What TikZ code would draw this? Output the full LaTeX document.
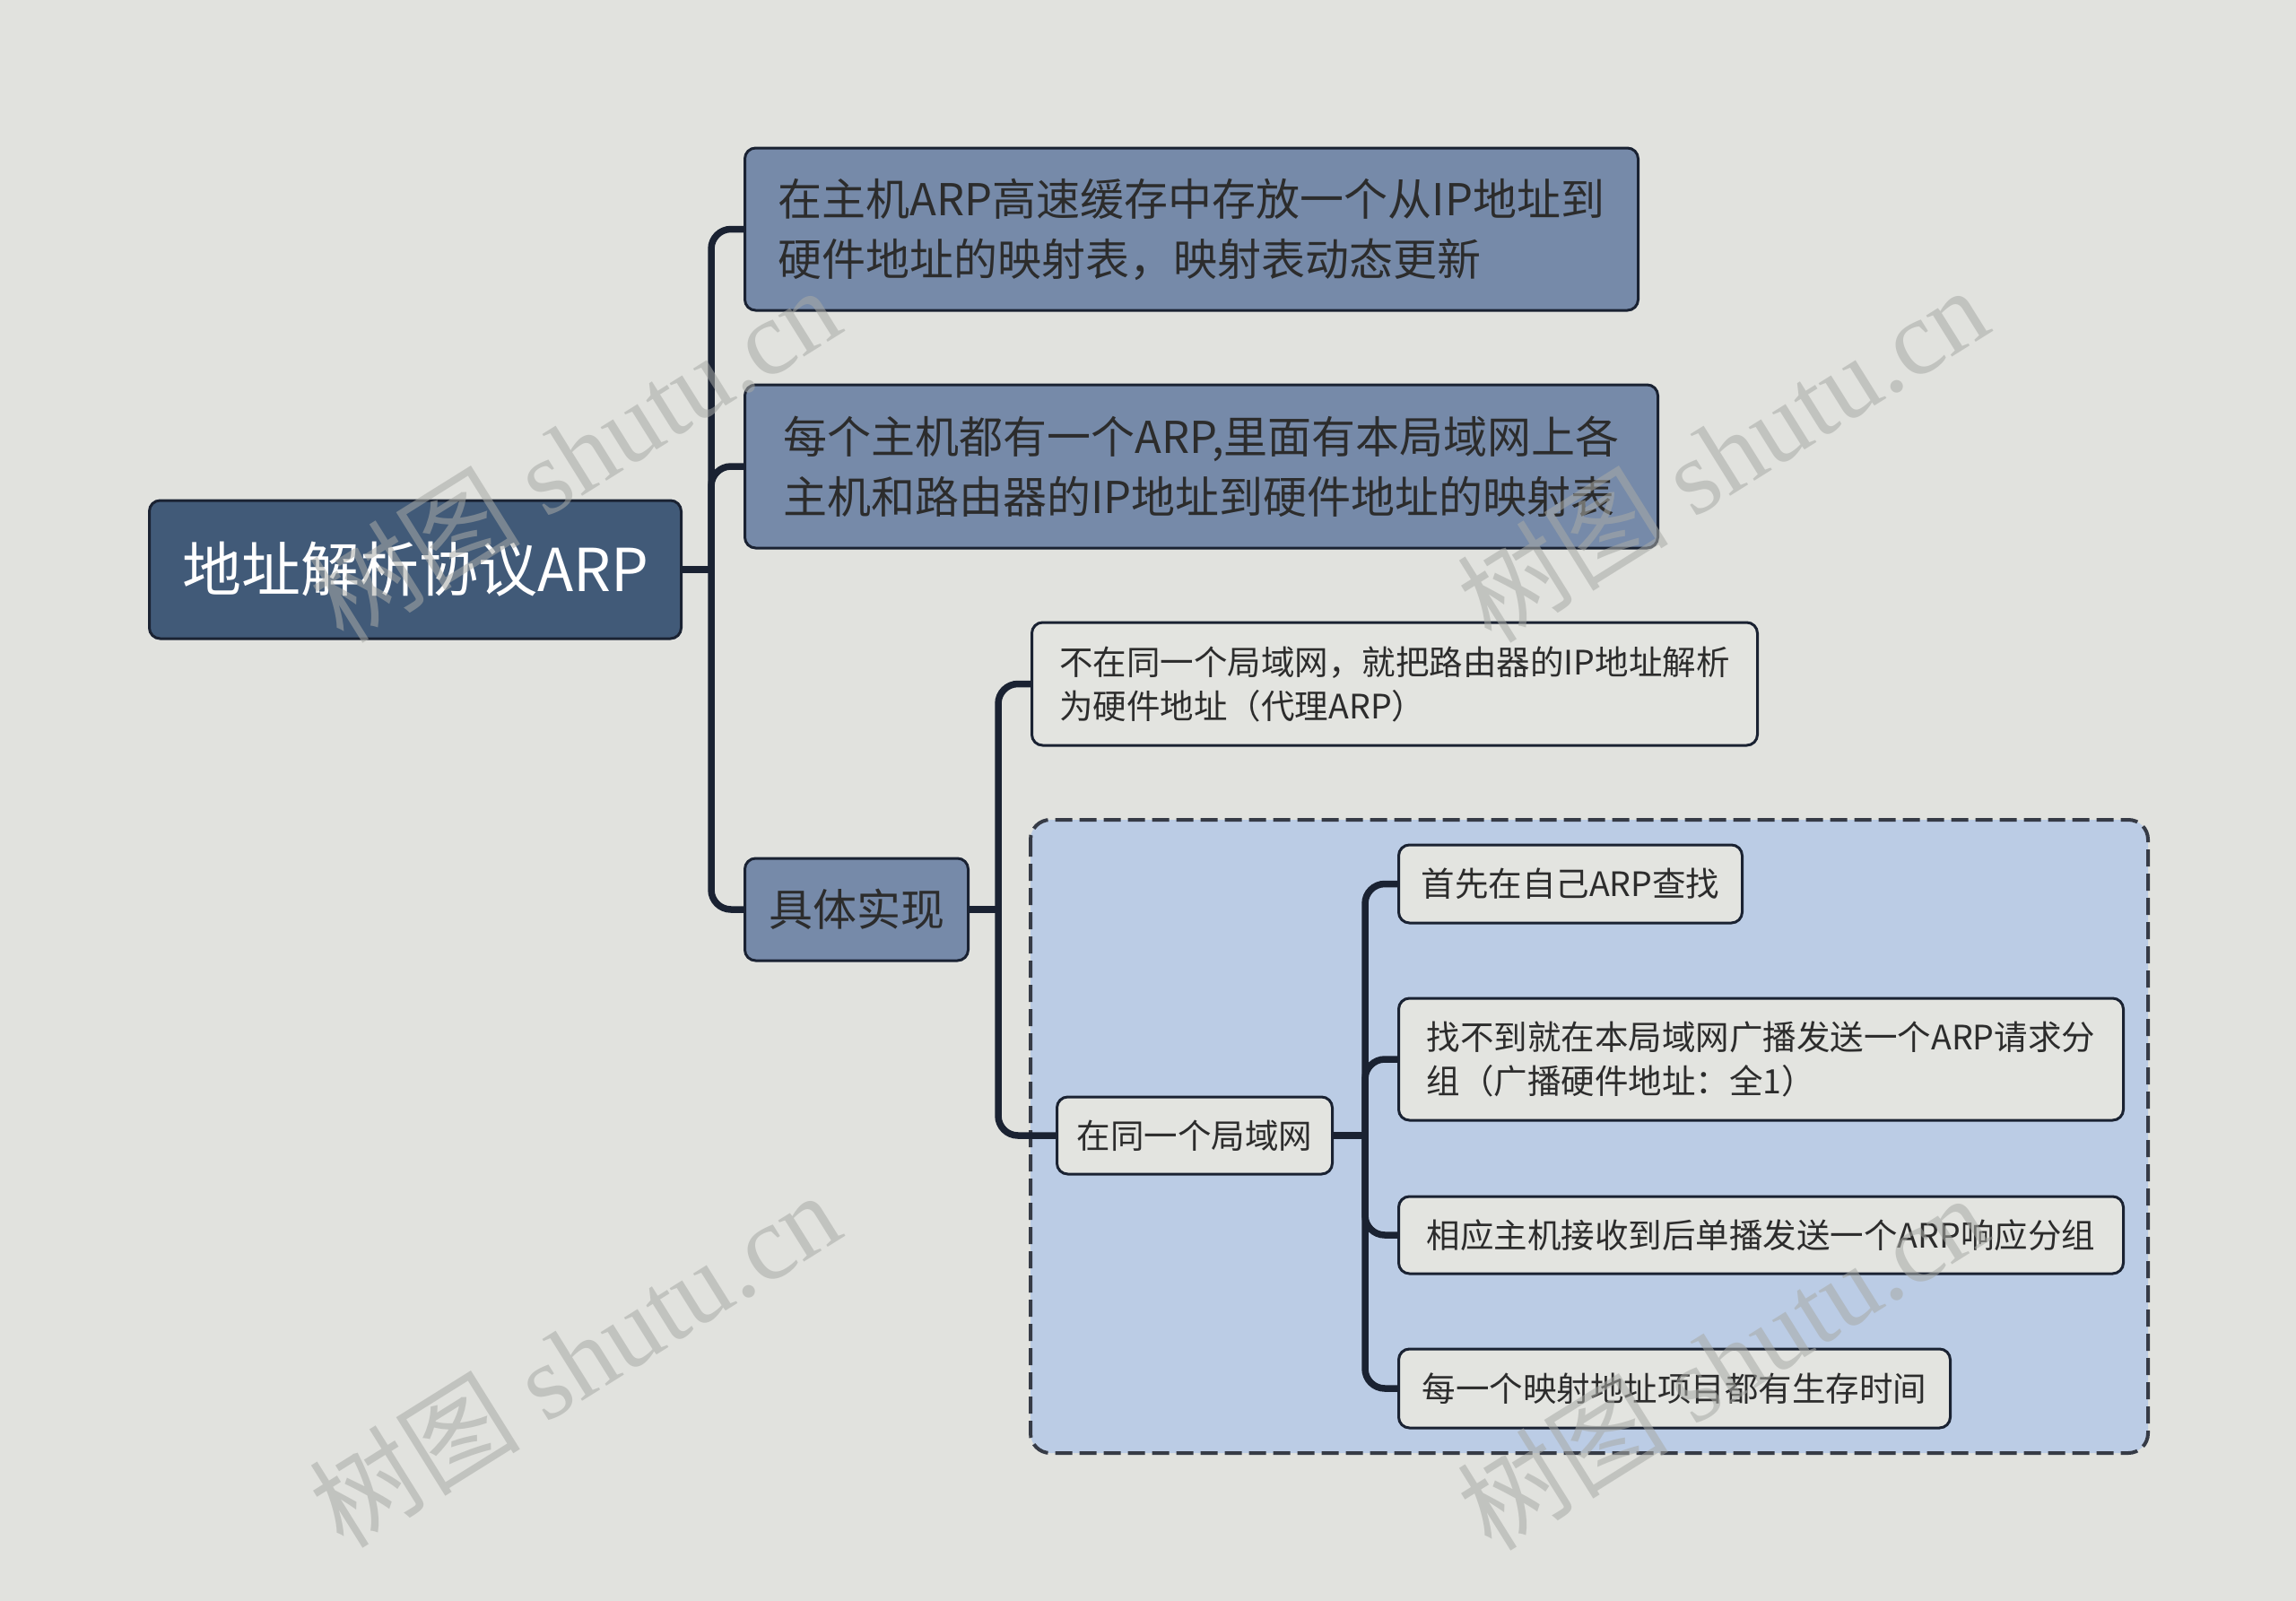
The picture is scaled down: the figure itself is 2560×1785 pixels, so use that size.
\documentclass[tikz,border=0pt]{standalone}
\usepackage{fontspec}
\setmainfont{Noto Sans CJK SC}
\newfontfamily\cjk{Noto Sans CJK SC}
\newfontfamily\wmserif{Liberation Serif}
\definecolor{bgC}{HTML}{E1E2DE}
\definecolor{rootC}{HTML}{415A78}
\definecolor{loneC}{HTML}{768AA9}
\definecolor{ltwoC}{HTML}{E3E4E0}
\definecolor{grpC}{HTML}{BBCCE5}
\definecolor{lineC}{HTML}{1A2232}
\definecolor{txtC}{HTML}{2C2C2C}
\definecolor{dashC}{HTML}{363B46}
\definecolor{wmC}{HTML}{A8AAA6}
\tikzset{
  box/.style={rounded corners=12pt, draw=lineC, line width=3pt, align=left,
    inner xsep=10pt, inner ysep=0pt, text=txtC, anchor=west},
  rootbox/.style={box, fill=rootC, text=white, font=\fontsize{66}{80}\selectfont},
  lonebox/.style={box, fill=loneC, font=\fontsize{49}{67}\selectfont},
  ltwobox/.style={box, fill=ltwoC, font=\fontsize{37.5}{49}\selectfont},
  conn/.style={draw=lineC, line width=7.5pt, rounded corners=22pt},
  grp/.style={draw=dashC, fill=grpC, line width=4pt, dash pattern=on 19pt off 8pt, rounded corners=22pt},
  wm/.style={text=wmC, opacity=0.55, rotate=32, font=\wmserif\fontsize{118}{118}\selectfont, inner sep=0pt}
}
\begin{document}
\begin{tikzpicture}[x=1pt,y=-1pt]
\fill[bgC] (0,0) rectangle (2560,1785);
\useasboundingbox (0,0) rectangle (2560,1785);

% dashed group
\filldraw[grp] (1149,914) rectangle (2395,1620);

% nodes
\node[rootbox, minimum width=593pt, minimum height=154pt, align=center] (root) at (165,635) {地址解析协议ARP};
\node[lonebox, minimum width=996pt, minimum height=181pt] (a) at (829,255.5) {在主机ARP高速缓存中存放一个从IP地址到\\硬件地址的映射表，映射表动态更新};
\node[lonebox, minimum width=1018pt, minimum height=182pt] (b) at (829,520) {每个主机都有一个ARP,里面有本局域网上各\\主机和路由器的IP地址到硬件地址的映射表};
\node[lonebox, minimum width=249pt, minimum height=114pt, align=center] (c) at (829,1014) {具体实现};
\node[ltwobox, minimum width=809pt, minimum height=137pt] (d) at (1149,762.5) {不在同一个局域网，就把路由器的IP地址解析\\为硬件地址（代理ARP）};
\node[ltwobox, minimum width=307pt, minimum height=86pt, align=center] (e) at (1177,1266) {在同一个局域网};
\node[ltwobox, minimum width=383pt, minimum height=87pt, align=center] (f) at (1558,985.5) {首先在自己ARP查找};
\node[ltwobox, minimum width=808pt, minimum height=136pt] (g) at (1558,1181) {找不到就在本局域网广播发送一个ARP请求分\\组（广播硬件地址：全1）};
\node[ltwobox, minimum width=808pt, minimum height=86pt, align=center] (h) at (1558,1377) {相应主机接收到后单播发送一个ARP响应分组};
\node[ltwobox, minimum width=615pt, minimum height=88pt, align=center] (i) at (1558,1548) {每一个映射地址项目都有生存时间};

% connectors
\coordinate (t0) at (793,635);
\draw[conn] (root.east) -- (t0);
\draw[conn] (t0) |- (a.west);
\draw[conn] (t0) |- (b.west);
\draw[conn] (t0) |- (c.west);

\coordinate (t1) at (1113,1014);
\draw[conn] (c.east) -- (t1);
\draw[conn] (t1) |- (d.west);
\draw[conn] (t1) |- (e.west);

\coordinate (t2) at (1522,1266);
\draw[conn] (e.east) -- (t2);
\draw[conn] (t2) |- (f.west);
\draw[conn] (t2) |- (g.west);
\draw[conn] (t2) |- (h.west);
\draw[conn] (t2) |- (i.west);

% watermarks
\node[wm] (w1) at (640,506) {{\cjk 树图} shutu.cn};
\node[wm] (w2) at (1920,506) {{\cjk 树图} shutu.cn};
\node[wm] (w3) at (640,1515) {{\cjk 树图} shutu.cn};
\node[wm] (w4) at (1920,1518) {{\cjk 树图} shutu.cn};
\end{tikzpicture}
\end{document}
